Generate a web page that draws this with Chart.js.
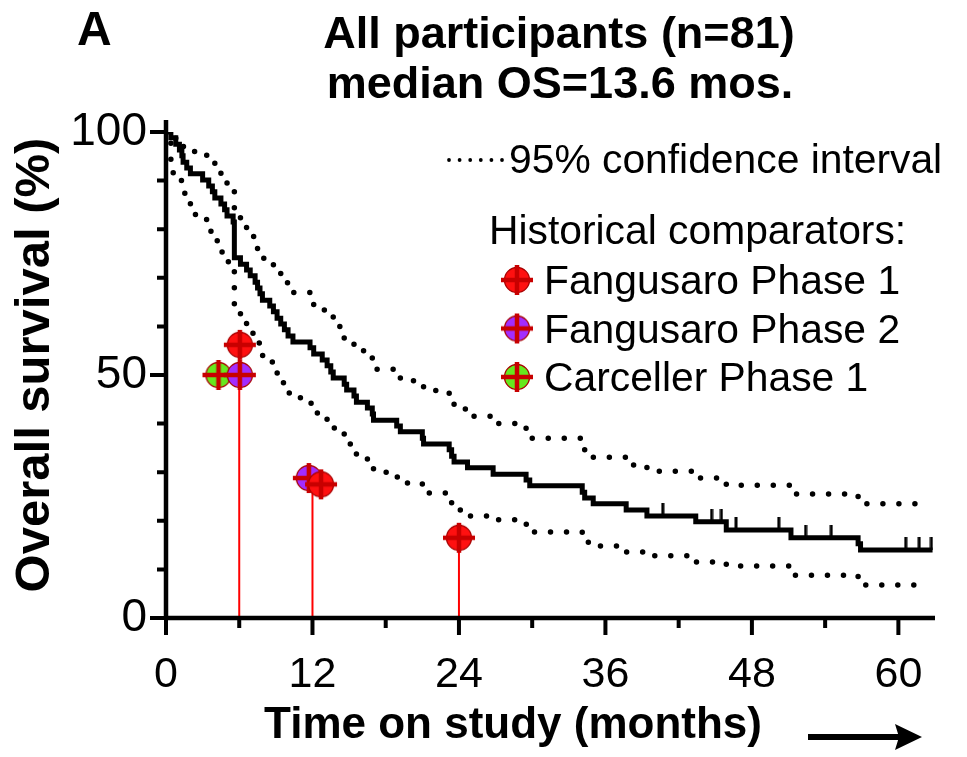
<!DOCTYPE html>
<html>
<head>
<meta charset="utf-8">
<title>Overall survival – all participants</title>
<script src="https://cdn.jsdelivr.net/npm/chart.js@4.4.1/dist/chart.umd.min.js"></script>
<style>
  html, body { margin: 0; padding: 0; background: #fff; }
  #wrap { width: 967px; height: 757px; }
  canvas { display: block; }
</style>
</head>
<body>
<div id="wrap"><canvas id="os" width="967" height="757"></canvas></div>
<script>
// ---- Kaplan–Meier estimate of overall survival (months, %) ----
const kmMonths = [0, 0.4, 0.8, 1.1, 1.3, 1.4, 1.7, 2.0, 3.0, 3.5, 3.8, 4.0, 4.5, 4.8, 5.0, 5.5, 5.6,
  6.1, 6.6, 6.9, 7.3, 7.5, 7.7, 7.9, 8.5, 8.8, 9.1, 9.4, 9.7, 10.0, 10.4, 11.8, 12.1, 12.8, 13.2, 13.5, 13.7,
  14.6, 14.8, 15.4, 15.6, 16.5, 16.9, 17.0, 18.9, 19.2, 21.0, 21.1, 23.2, 23.4, 23.6, 24.7, 26.8, 29.5, 29.8,
  34.1, 34.3, 35.0, 37.7, 39.4, 43.4, 45.9, 51.2, 56.7, 56.9, 62.8];
const kmSurvival = [100, 98.8, 97.5, 96.3, 95.1, 93.8, 92.6, 91.4, 90.1, 88.9, 87.7, 86.4, 85.2, 84.0, 82.7, 81.5, 74.1,
  72.8, 71.6, 70.4, 69.1, 67.9, 66.7, 65.4, 64.2, 63.0, 61.7, 60.5, 59.3, 58.0, 56.8, 55.6, 54.3, 53.1, 51.9, 50.6, 49.4,
  48.1, 46.9, 45.7, 44.4, 43.2, 42.0, 40.7, 39.5, 38.3, 37.0, 35.8, 34.6, 33.3, 32.1, 30.9, 29.6, 28.4, 27.2,
  25.9, 24.7, 23.5, 22.2, 21.0, 19.8, 18.1, 16.5, 15.3, 14.0, 14.0];

// censored observations (months)
const censorMonths = [40.7, 44.7, 45.5, 46.7, 50.2, 52.4, 54.5, 60.6, 61.7, 62.7];

// ---- 95% confidence band ----
const ciUpperMonths = [0, 0.4, 0.8, 1.1, 1.4, 1.7, 2.0, 3.0, 3.5, 3.8, 4.0, 4.5, 4.8, 5.0, 5.5, 5.6,
  6.1, 6.6, 6.9, 7.3, 7.5, 7.7, 7.9, 8.5, 8.8, 9.1, 9.4, 9.7, 10.0, 10.4, 11.8, 12.1, 12.8, 13.2, 13.5, 13.7,
  14.6, 14.8, 15.4, 15.6, 16.5, 16.9, 17.0, 18.9, 19.2, 21.0, 21.1, 23.2, 23.4, 23.6, 24.7, 26.8, 29.5, 29.8,
  34.1, 34.3, 35.0, 37.7, 39.4, 43.4, 45.9, 51.2, 56.7, 56.9, 61.5];
const ciUpper = [100, 99.5, 98.5, 97.8, 97.0, 96.5, 96.0, 95.2, 94.8, 94.2, 92.5, 91.0, 89.7, 88.8, 88.0, 82.5,
  81.5, 79.5, 78.5, 77.0, 76.0, 75.0, 74.0, 73.3, 72.5, 71.0, 70.0, 69.0, 68.0, 67.0, 65.0, 64.0, 63.4, 62.5, 62.0, 60.0,
  57.6, 56.8, 56.0, 55.0, 54.0, 52.5, 51.2, 50.0, 48.8, 47.8, 46.8, 45.2, 44.0, 43.0, 41.5, 40.0, 39.0, 37.0,
  35.0, 34.2, 33.1, 31.5, 30.2, 28.8, 27.3, 25.5, 24.5, 23.5, 23.5];

const ciLowerMonths = [0, 0.4, 1.1, 1.4, 1.7, 2.0, 3.0, 3.5, 4.0, 4.5, 4.8, 5.5, 5.6,
  6.1, 6.6, 6.9, 7.3, 7.5, 7.7, 8.5, 8.8, 9.1, 9.4, 10.0, 10.4, 11.8, 12.1, 12.8, 13.5, 14.6, 14.8, 15.4, 15.6,
  16.5, 16.9, 17.0, 18.9, 19.2, 21.0, 21.1, 23.2, 23.4, 23.6, 24.7, 26.8, 29.5, 29.8,
  34.1, 34.3, 35.0, 37.7, 39.4, 43.4, 45.9, 51.2, 56.7, 56.9, 61.5];
const ciLower = [100, 91.6, 90.0, 87.4, 85.8, 83.0, 82.0, 79.6, 77.6, 75.3, 73.3, 71.6, 64.0,
  62.0, 60.5, 58.6, 57.5, 56.6, 54.0, 52.7, 51.5, 50.4, 48.4, 46.3, 45.3, 44.2, 42.2, 40.9, 39.1, 37.0, 35.8, 34.6, 33.5,
  32.3, 31.2, 30.0, 29.0, 27.8, 26.8, 25.7, 24.5, 23.5, 22.2, 21.0, 20.2, 19.3, 17.7,
  16.6, 15.6, 14.8, 13.6, 12.8, 11.5, 10.7, 8.8, 8.2, 6.8, 6.8];

// ---- historical comparators (months, % alive) ----
const fangusaroP1Months = [6.05, 12.7, 24.0];
const fangusaroP1Surv   = [56.2, 27.5, 16.5];
const fangusaroP2Months = [6.05, 11.7];
const fangusaroP2Surv   = [50.0, 28.8];
const carcellerP1Months = [4.3];
const carcellerP1Surv   = [50.0];

// landmark reference lines
const landmarkMonths = [6, 12, 24];
const landmarkTops   = [56.2, 28.8, 16.5];

// ---- text ----
const panelLetter = 'A';
const titleLines = ['All participants (n=81)', 'median OS=13.6 mos.'];
const xTitle = 'Time on study (months)';
const yTitle = 'Overall survival (%)';
const ciLabel = '95% confidence interval';
const comparatorHeading = 'Historical comparators:';
const comparatorNames = ['Fangusaro Phase 1', 'Fangusaro Phase 2', 'Carceller Phase 1'];
const comparatorFills = ['#ff1010', '#a22cff', '#66e81e'];

const FONT = '"Liberation Sans", Arial, Helvetica, sans-serif';
Chart.defaults.font.family = FONT;
Chart.defaults.color = '#000';

const pairs = (xs, ys) => xs.map((x, i) => ({ x, y: ys[i] }));

// value of the step curve at time t
function kmAt(t) {
  let v = kmSurvival[0];
  for (let i = 0; i < kmMonths.length; i++) { if (kmMonths[i] <= t) v = kmSurvival[i]; }
  return v;
}

// comparator glyph: filled disc with a red cross of error bars
function makeMarker(fill) {
  const c = document.createElement('canvas');
  c.width = 36; c.height = 36;
  const g = c.getContext('2d');
  g.beginPath();
  g.arc(18, 18, 12.5, 0, Math.PI * 2);
  g.fillStyle = fill;
  g.fill();
  g.lineWidth = 1.3;
  g.strokeStyle = '#a80000';
  g.stroke();
  g.strokeStyle = '#c80000';
  g.lineWidth = 4.5;
  g.beginPath();
  g.moveTo(2, 18); g.lineTo(34, 18);
  g.moveTo(18, 3); g.lineTo(18, 33);
  g.stroke();
  return c;
}

// censor mark: short upward tick sitting on the curve
function makeCensorTick() {
  const c = document.createElement('canvas');
  c.width = 4; c.height = 26;
  const g = c.getContext('2d');
  g.fillStyle = '#000';
  g.fillRect(0.5, 0, 3, 13);
  return c;
}

const markers = comparatorFills.map(makeMarker);

const datasets = [
  { label: comparatorNames[0], data: pairs(fangusaroP1Months, fangusaroP1Surv), showLine: false,
    pointStyle: markers[0], pointRadius: 12, order: 0, isComparator: true },
  { label: comparatorNames[1], data: pairs(fangusaroP2Months, fangusaroP2Surv), showLine: false,
    pointStyle: markers[1], pointRadius: 12, order: 1, isComparator: true },
  { label: comparatorNames[2], data: pairs(carcellerP1Months, carcellerP1Surv), showLine: false,
    pointStyle: markers[2], pointRadius: 12, order: 2, isComparator: true },
  { label: 'Censored', data: censorMonths.map(t => ({ x: t, y: kmAt(t) })), showLine: false,
    pointStyle: makeCensorTick(), pointRadius: 3, order: 3 },
  { label: 'All participants', data: pairs(kmMonths, kmSurvival), stepped: true,
    borderColor: '#000', borderWidth: 5, pointRadius: 0, fill: false, order: 4 },
  { label: ciLabel, data: pairs(ciUpperMonths, ciUpper), stepped: true,
    borderColor: '#000', borderWidth: 5.5, borderDash: [0.01, 16], borderCapStyle: 'round',
    pointRadius: 0, fill: false, order: 5 },
  { label: ciLabel + ' (lower)', data: pairs(ciLowerMonths, ciLower), stepped: true,
    borderColor: '#000', borderWidth: 5.5, borderDash: [0.01, 16], borderCapStyle: 'round',
    pointRadius: 0, fill: false, order: 6 }
];
landmarkMonths.forEach((m, i) => {
  datasets.push({ label: 'landmark ' + m, data: [{ x: m, y: 0 }, { x: m, y: landmarkTops[i] }],
    borderColor: '#ff0000', borderWidth: 2, pointRadius: 0, fill: false, order: 7 });
});

// axes lines, tick marks, titles, panel letter, arrow and legend
const decorations = {
  id: 'decorations',
  afterDatasetsDraw(chart) {
    const { ctx, chartArea: a, scales: { x, y } } = chart;
    const x0 = x.getPixelForValue(0), y0 = y.getPixelForValue(0);
    ctx.save();
    ctx.strokeStyle = '#000';
    ctx.lineCap = 'butt';
    // axis lines
    ctx.lineWidth = 4.5;
    ctx.beginPath();
    ctx.moveTo(x0, a.top - 12); ctx.lineTo(x0, y0);
    ctx.moveTo(x0, y0); ctx.lineTo(a.right, y0);
    ctx.stroke();
    // x ticks: major every 12, minor every 6
    ctx.lineWidth = 4;
    ctx.beginPath();
    x.ticks.forEach(t => {
      if (t.value % 6 !== 0) return;
      const px = x.getPixelForValue(t.value);
      const len = t.value % 12 === 0 ? 17 : 10;
      ctx.moveTo(px, y0); ctx.lineTo(px, y0 + len);
    });
    // y ticks: major every 50, minor every 10
    y.ticks.forEach(t => {
      if (t.value % 10 !== 0) return;
      const py = y.getPixelForValue(t.value);
      const len = t.value % 50 === 0 ? 16 : 9;
      ctx.moveTo(x0, py); ctx.lineTo(x0 - len, py);
    });
    ctx.stroke();
    ctx.restore();
  },
  afterDraw(chart) {
    const { ctx } = chart;
    ctx.save();
    ctx.fillStyle = '#000';
    ctx.textBaseline = 'alphabetic';

    // panel letter
    ctx.font = 'bold 48px ' + FONT;
    ctx.textAlign = 'left';
    ctx.fillText(panelLetter, 77, 45);

    // two-line title
    ctx.font = 'bold 45px ' + FONT;
    ctx.textAlign = 'center';
    ctx.fillText(titleLines[0], 559, 48);
    ctx.fillText(titleLines[1], 560, 98);

    // y-axis title
    ctx.save();
    ctx.translate(49, 365);
    ctx.rotate(-Math.PI / 2);
    ctx.font = 'bold 49px ' + FONT;
    ctx.fillText(yTitle, 0, 0);
    ctx.restore();

    // x-axis title and direction arrow
    ctx.font = 'bold 44px ' + FONT;
    ctx.fillText(xTitle, 513, 738);
    ctx.beginPath();
    ctx.moveTo(808, 734); ctx.lineTo(900, 734); ctx.lineTo(900, 740); ctx.lineTo(808, 740);
    ctx.closePath(); ctx.fill();
    ctx.beginPath();
    ctx.moveTo(922, 737); ctx.lineTo(895, 724); ctx.lineTo(899, 737); ctx.lineTo(895, 750);
    ctx.closePath(); ctx.fill();

    // legend: confidence interval
    ctx.textAlign = 'left';
    ctx.font = '40.8px ' + FONT;
    for (let i = 0; i < 6; i++) {
      ctx.beginPath();
      ctx.arc(449 + i * 10.6, 160, 1.9, 0, Math.PI * 2);
      ctx.fill();
    }
    ctx.fillText(ciLabel, 509, 173);

    // legend: comparators
    ctx.fillText(comparatorHeading, 489, 244);
    chart.data.datasets.filter(d => d.isComparator).forEach((d, i) => {
      const cy = 280 + i * 48.5;
      const img = d.pointStyle;
      ctx.drawImage(img, 517 - img.width / 2, cy - img.height / 2);
      ctx.fillText(d.label, 544, cy + 14);
    });
    ctx.restore();
  }
};

new Chart(document.getElementById('os'), {
  type: 'line',
  data: { datasets },
  options: {
    responsive: false,
    animation: false,
    events: [],
    layout: { padding: { left: 0, right: 32, top: 132, bottom: 0 } },
    plugins: {
      legend: { display: false },
      tooltip: { enabled: false }
    },
    scales: {
      x: {
        type: 'linear', min: 0, max: 63,
        grid: { display: false, drawTicks: false },
        border: { display: false },
        ticks: {
          stepSize: 6, autoSkip: false, maxRotation: 0, padding: 31, includeBounds: false,
          font: { family: FONT, size: 43 }, color: '#000',
          callback: v => (v % 12 === 0 ? String(v) : '')
        },
        afterFit: s => { s.height = 139; }
      },
      y: {
        type: 'linear', min: 0, max: 100,
        grid: { display: false, drawTicks: false },
        border: { display: false },
        ticks: {
          stepSize: 10, autoSkip: false, padding: 19,
          font: { family: FONT, size: 46 }, color: '#000',
          callback: v => (v % 50 === 0 ? String(v) : '')
        },
        afterFit: s => { s.width = 166; }
      }
    }
  },
  plugins: [decorations]
});
</script>
</body>
</html>
